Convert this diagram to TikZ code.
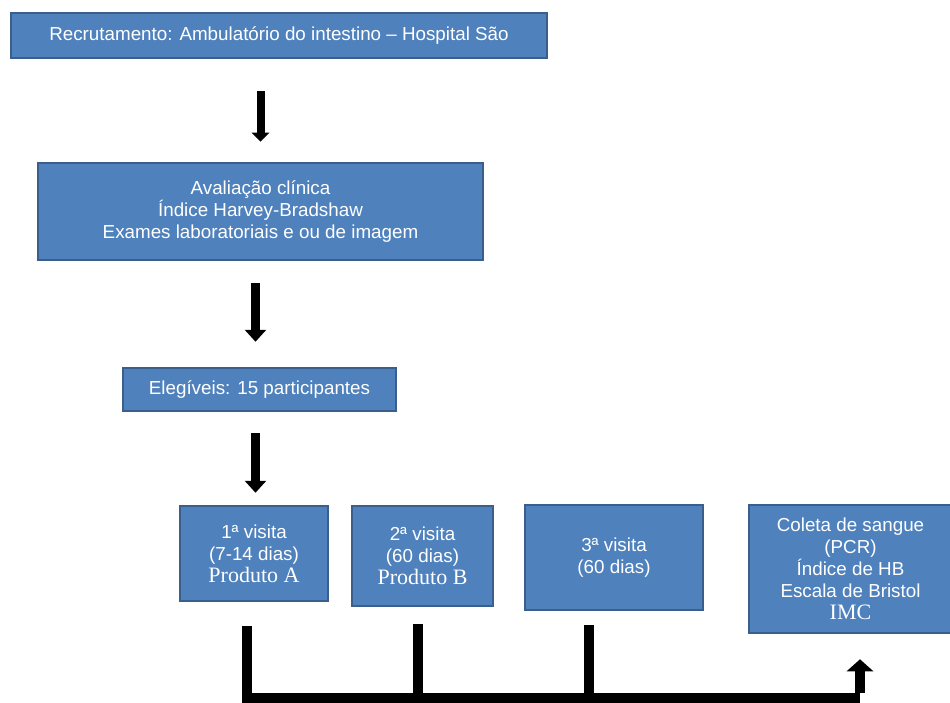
\documentclass[tikz,border=0pt]{standalone}
\usepackage{fontspec}
\setmainfont{Liberation Sans}
\newfontfamily\serifx{Liberation Serif}
\usetikzlibrary{arrows.meta,calc}
\definecolor{boxfill}{HTML}{4F81BD}
\definecolor{boxline}{HTML}{3A5F8C}
\begin{document}
\begin{tikzpicture}[x=1pt,y=-1pt,
  bx/.style={draw=boxline, line width=2.5pt, fill=boxfill, text=white, align=center,
     inner sep=0pt, font=\fontsize{18.8}{22}\selectfont},
  arrsmall/.style={line width=8pt, -{Triangle[width=17pt,length=9pt]}},
  arr/.style={line width=9pt, -{Triangle[width=21pt,length=12pt]}},
  bar/.style={line width=9.5pt, line join=miter},
  bararr/.style={bar, -{Triangle[width=26pt,length=12pt]}}]
\useasboundingbox (0,0) rectangle (950,703);
\node[bx, minimum width=536pt, minimum height=45pt] (b1) at (279,35.5)
  {Recrutamento: Ambulatório do intestino – Hospital São};
\node[bx, minimum width=445pt, minimum height=97pt] (b2) at (260.5,211.5)
  {Avaliação clínica\\Índice Harvey-Bradshaw\\Exames laboratoriais e ou de imagem};
\node[bx, minimum width=273pt, minimum height=43pt] (b3) at (259.5,389.5)
  {Elegíveis: 15 participantes};
\node[bx, minimum width=148pt, minimum height=95pt] (b4) at (254,553.5)
  {1ª visita\\(7-14 dias)\\{\serifx\fontsize{22}{24}\selectfont Produto A}};
\node[bx, minimum width=141pt, minimum height=100pt] (b5) at (422.5,556)
  {2ª visita\\(60 dias)\\{\serifx\fontsize{22}{24}\selectfont Produto B}};
\node[bx, minimum width=178pt, minimum height=105pt] (b6) at (614,557.5)
  {3ª visita\\(60 dias)};
\node[bx, minimum width=203pt, minimum height=128pt] (b7) at (850.5,569)
  {Coleta de sangue\\(PCR)\\Índice de HB\\Escala de Bristol\\{\serifx\fontsize{22}{24}\selectfont IMC}};
% vertical arrows
\draw[arrsmall] ([yshift=-32pt]b2.north |- b1.south) -- ([yshift=20pt]b2.north);
\draw[arr] ([xshift=-5pt,yshift=-22pt]b2.south) -- ([xshift=-4pt,yshift=25pt]b3.north);
\draw[arr] ([xshift=-4pt,yshift=-21pt]b3.south) -- ([xshift=1.5pt,yshift=12pt]b4.north);
% bottom connector
\coordinate (c1) at (247,626);
\coordinate (c2) at (418,624);
\coordinate (c3) at (589,625);
\coordinate (cb) at (247,698);
\coordinate (ce) at (860,698);
\coordinate (ct) at ([yshift=-25pt]b7.south -| ce);
\draw[bar] (c1) -- (cb) -- (ce);
\draw[bararr] ([yshift=4.75pt]ce) -- (ct);
\draw[bar] (c2) -- (c2 |- cb);
\draw[bar] (c3) -- (c3 |- cb);
\end{tikzpicture}
\end{document}
